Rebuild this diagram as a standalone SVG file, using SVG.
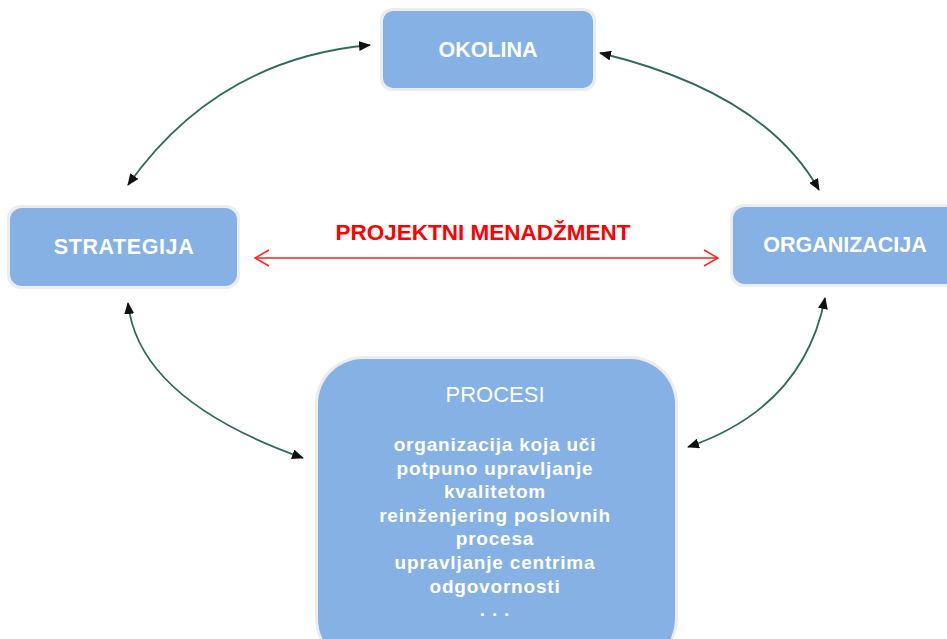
<svg xmlns="http://www.w3.org/2000/svg" width="947" height="639" viewBox="0 0 947 639">
<defs>
<style>
.halo{fill:#ededed}
.box{fill:#85B1E5}
.lbl{font-family:"Liberation Sans",Arial,sans-serif;font-weight:bold;font-size:21.5px;fill:#ffffff;text-anchor:middle}
.body{font-family:"Liberation Sans",Arial,sans-serif;font-weight:bold;font-size:19px;letter-spacing:0.8px;fill:#ffffff;text-anchor:middle}
.arc{fill:none;stroke:#2f6b5c;stroke-width:1.8}
.red{fill:none;stroke:#ff2020;stroke-width:1.5}
</style>
<marker id="ah" viewBox="0 0 12 10" refX="11" refY="5" markerWidth="12" markerHeight="10" markerUnits="userSpaceOnUse" orient="auto-start-reverse">
<path d="M0,0 L12,5 L0,10 Z" fill="#111"/>
</marker>
<marker id="rh" viewBox="0 0 16 18" refX="15" refY="9" markerWidth="16" markerHeight="18" markerUnits="userSpaceOnUse" orient="auto-start-reverse">
<path d="M1,1 L15,9 L1,17" fill="none" stroke="#ff2020" stroke-width="1.5"/>
</marker>
</defs>
<rect width="947" height="639" fill="#ffffff"/>
<g id="connectors">
<path class="arc" d="M128,185 Q217,59 370,45" marker-start="url(#ah)" marker-end="url(#ah)"/>
<path class="arc" d="M600,53 Q764.5,92.5 819,190" marker-start="url(#ah)" marker-end="url(#ah)"/>
<path class="arc" d="M128,303 Q138.5,399.5 303,458" marker-start="url(#ah)" marker-end="url(#ah)"/>
<path class="arc" d="M825,298 Q803.5,407.5 688,447" marker-start="url(#ah)" marker-end="url(#ah)"/>
<path class="red" d="M255,258 L718,258" marker-start="url(#rh)" marker-end="url(#rh)"/>
</g>
<g id="okolina">
<rect class="halo" x="380" y="8" width="216" height="83" rx="12"/>
<rect class="box" x="383" y="11" width="210" height="77" rx="10"/>
<text class="lbl" x="488" y="57">OKOLINA</text>
</g>
<g id="strategija">
<rect class="halo" x="7" y="205" width="233" height="84" rx="14"/>
<rect class="box" x="10" y="208" width="227" height="78" rx="12"/>
<text class="lbl" x="124" y="254" letter-spacing="0.6">STRATEGIJA</text>
</g>
<g id="organizacija">
<rect class="halo" x="730" y="204" width="240" height="83" rx="14"/>
<rect class="box" x="733" y="207" width="234" height="77" rx="12"/>
<text class="lbl" x="845" y="252">ORGANIZACIJA</text>
</g>
<g id="projektni-menadzment">
<text x="483" y="240" font-family="'Liberation Sans',Arial,sans-serif" font-weight="bold" font-size="22.5" fill="#ff0000" text-anchor="middle">PROJEKTNI MENADŽMENT</text>
</g>
<g id="procesi">
<rect class="halo" x="315" y="356" width="363" height="310" rx="48"/>
<rect class="box" x="318" y="359" width="357" height="305" rx="45"/>
<text x="495" y="402" font-family="'Liberation Sans',Arial,sans-serif" font-size="22" fill="#ffffff" text-anchor="middle">PROCESI</text>
<text class="body" x="495" y="451">organizacija koja uči</text>
<text class="body" x="495" y="474.6">potpuno upravljanje</text>
<text class="body" x="495" y="498.2">kvalitetom</text>
<text class="body" x="495" y="521.8">reinženjering poslovnih</text>
<text class="body" x="495" y="545.4">procesa</text>
<text class="body" x="495" y="569">upravljanje centrima</text>
<text class="body" x="495" y="592.6">odgovornosti</text>
<text class="body" x="495" y="616.2">. . .</text>
</g>
</svg>
